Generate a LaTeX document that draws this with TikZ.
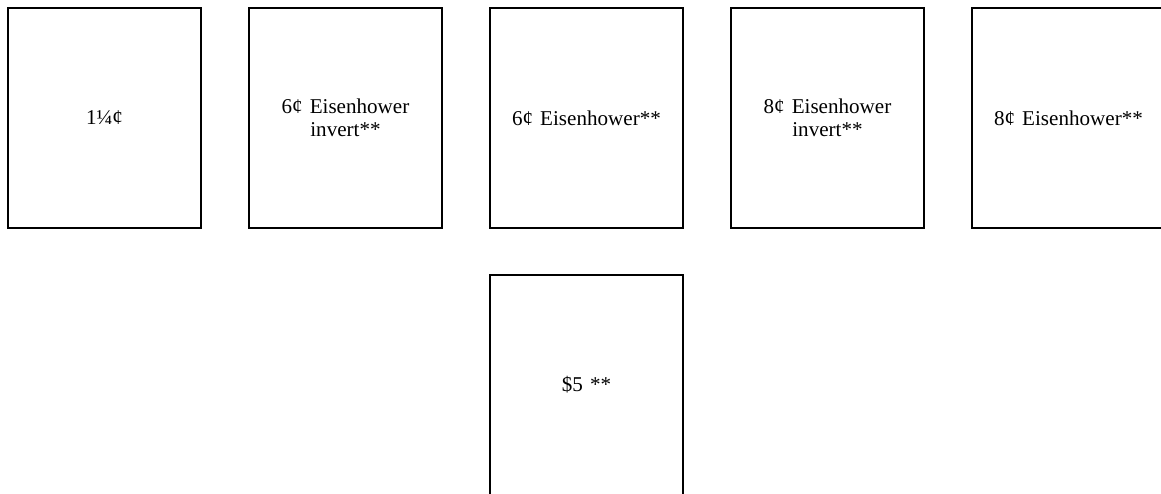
\documentclass[tikz,border=0pt]{standalone}
\usepackage{fontspec}
\setmainfont{Liberation Serif}
\usepackage{tikz}
\usetikzlibrary{positioning}
\tikzset{
  stamp/.style={draw, rectangle, line width=1.1pt, minimum width=3.86cm, minimum height=4.4cm, text width=3.5cm, align=center, inner sep=0pt, font=\fontsize{12}{13}\selectfont}
}

\begin{document}
\begin{tikzpicture}[x=0.02cm,y=0.02cm]
  \useasboundingbox (0,0) rectangle (1161,-494);
  \node[stamp] (onequarter) at (104.5,-118) {1¼¢};
  \node[stamp] (sixinvert) at (345.5,-118) {6¢ Eisenhower\\invert**};
  \node[stamp] (six) at (586.5,-118) {6¢ Eisenhower**};
  \node[stamp] (eightinvert) at (827.5,-118) {8¢ Eisenhower\\invert**};
  \node[stamp] (eight) at (1068.5,-118) {8¢ Eisenhower**};
  \node[stamp] (fivedollar) at (586.5,-385) {\$5 **};
\end{tikzpicture}
\end{document}
